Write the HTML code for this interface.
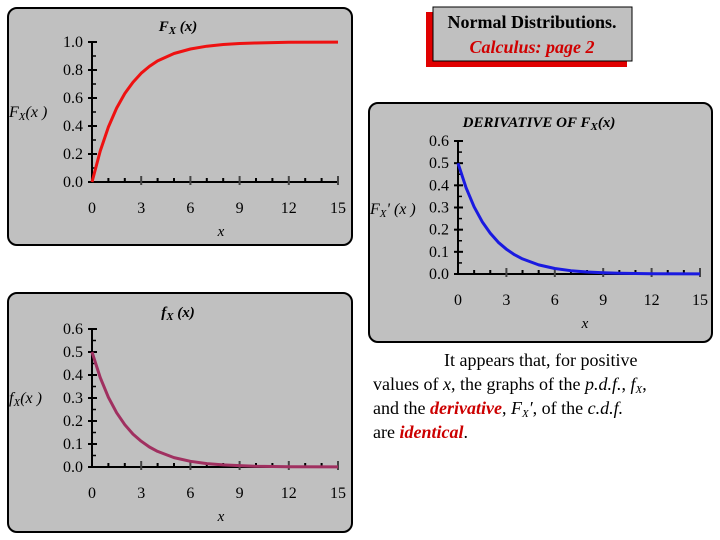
<!DOCTYPE html>
<html><head><meta charset="utf-8"><style>
body{margin:0;width:720px;height:540px;background:#fff;position:relative;overflow:hidden;font-family:"Liberation Serif",serif}
svg{position:absolute;left:0;top:0}
#para{position:absolute;left:373px;top:348px;width:345px;font-size:18px;line-height:24px;color:#000;white-space:nowrap}
#para sub{font-size:11px;line-height:0;vertical-align:-3px}
</style></head><body>
<svg id="s" width="720" height="540"></svg>
<div id="para"><span style="padding-left:71px"></span>It appears that, for positive<br>values of <i>x</i>, the graphs of the <i>p.d.f.</i>, <i>f<sub>X</sub></i>,<br>and the <b><i style="color:#c00">derivative</i></b>, <i>F<sub>X</sub>′</i>, of the <i>c.d.f.</i><br>are <b><i style="color:#c00">identical</i></b>.</div>
<script>
const xs=[0,0.5,1,1.5,2,2.5,3,3.5,4,5,6,7,8,9,10,12,15];
const cdfVals=[0,0.221,0.393,0.528,0.632,0.713,0.777,0.826,0.865,0.918,0.950,0.970,0.982,0.989,0.993,0.998,0.999];
const pdfVals=[0.5,0.389,0.303,0.236,0.184,0.143,0.112,0.087,0.068,0.041,0.025,0.015,0.009,0.006,0.003,0.001,0.0003];
const derivVals=[0.5,0.389,0.303,0.236,0.184,0.143,0.112,0.087,0.068,0.041,0.025,0.015,0.009,0.006,0.003,0.001,0.0003];
const xTicks=[0,3,6,9,12,15];
const cdfYTicks=["0.0","0.2","0.4","0.6","0.8","1.0"];
const pdfYTicks=["0.0","0.1","0.2","0.3","0.4","0.5","0.6"];
const NS="http://www.w3.org/2000/svg";
const svg=document.getElementById('s');
function el(t,a,p){const e=document.createElementNS(NS,t);for(const k in a)e.setAttribute(k,a[k]);(p||svg).appendChild(e);return e;}
function txt(x,y,s,a,p){const e=el('text',Object.assign({x:x,y:y,'font-family':'Liberation Serif, serif','font-size':16},a||{}),p);e.textContent=s;return e;}
const tb=el('g',{});


el('rect',{x:426,y:12,width:201,height:55,fill:'#e00000'},tb);
el('rect',{x:433,y:7,width:199,height:54,fill:'#c0c0c0',stroke:'#000','stroke-width':1},tb);
txt(532,28,'Normal Distributions.',{'text-anchor':'middle','font-weight':'bold','font-size':18},tb);
txt(532,53,'Calculus:  page 2',{'text-anchor':'middle','font-weight':'bold','font-style':'italic','font-size':18,fill:'#d00000'},tb);
function chart(o){
  const g=el('g',{});
  
  
  el('rect',{x:o.px,y:o.py,width:o.pw,height:o.ph,rx:9,fill:'#c0c0c0',stroke:'#000','stroke-width':2},g);
  const sx=v=>o.x0+(o.x1-o.x0)*v/15;
  const sy=v=>o.y0-(o.y0-o.y1)*v/o.ymax;
  const ax=el('path',{d:`M${o.x0},${o.y1}V${o.y0}H${o.x1}`,stroke:'#000','stroke-width':2,fill:'none'},g);
  
  
  const n=o.yt.length-1;
  o.yt.forEach((l,i)=>{const v=o.ymax*i/n;const y=sy(v);
    el('line',{x1:o.x0-4,x2:o.x0+5,y1:y,y2:y,stroke:'#000','stroke-width':2},g);
    if(i<n){const ym=sy(v+o.ymax/n/2);el('line',{x1:o.x0,x2:o.x0+4,y1:ym,y2:ym,stroke:'#000','stroke-width':1.5},g);}
    const t=txt(o.x0-9,y+5,l,{'text-anchor':'end'},g);
    
    
  });
  for(let k=1;k<=15;k++){const x=sx(k);const maj=k%3==0;
    el('line',{x1:x,x2:x,y1:o.y0-(maj?6:4),y2:o.y0+(maj?3:0),stroke:maj?'#444':'#000','stroke-width':2},g);}
  xTicks.forEach(v=>{const t=txt(sx(v),o.y0+31,String(v),{'text-anchor':'middle'},g);
    
    });
  const xt=txt((o.x0+o.x1)/2+6,o.y0+54,'x',{'text-anchor':'middle','font-style':'italic','font-size':15},g);
  
  
  const tt=el('text',{x:o.tx,y:o.ty,'text-anchor':'middle','font-family':'Liberation Serif, serif','font-size':15,'font-weight':'bold','font-style':'italic'},g);
  tt.innerHTML=o.title;
  
  
  const yt=el('text',{x:o.px+1,y:o.yty,'font-family':'Liberation Serif, serif','font-size':16,'font-style':'italic'},g);
  yt.innerHTML=o.ylab;
  
  
  const d=xs.map((x,i)=>(i?'L':'M')+sx(x).toFixed(1)+','+sy(o.vals[i]).toFixed(1)).join('');
  const c=el('path',{d:d,stroke:o.color,'stroke-width':3,fill:'none','stroke-linejoin':'round'},g);
  
  
}
chart({name:'cdf-chart',px:8,py:8,pw:344,ph:237,x0:92,x1:338,y0:182,y1:42,ymax:1,yt:cdfYTicks,vals:cdfVals,color:'#ee1111',tx:178,ty:31,
 title:'F<tspan font-size="11" dy="3">X</tspan><tspan dy="-3"> (x)</tspan>',ylab:'F<tspan font-size="11" dy="3">X</tspan><tspan dy="-3">(x )</tspan>',yty:117});
chart({name:'derivative-chart',px:369,py:103,pw:343,ph:239,x0:458,x1:700,y0:274,y1:141,ymax:0.6,yt:pdfYTicks,vals:derivVals,color:'#1a1ae0',tx:539,ty:127,
 title:'DERIVATIVE OF F<tspan font-size="11" dy="3">X</tspan><tspan dy="-3">(x)</tspan>',ylab:'F<tspan font-size="11" dy="3">X</tspan><tspan dy="-3">\' (x )</tspan>',yty:214});
chart({name:'pdf-chart',px:8,py:293,pw:344,ph:239,x0:92,x1:338,y0:467,y1:329,ymax:0.6,yt:pdfYTicks,vals:pdfVals,color:'#a03060',tx:178,ty:317,
 title:'f<tspan font-size="11" dy="3">X</tspan><tspan dy="-3"> (x)</tspan>',ylab:'f<tspan font-size="11" dy="3">X</tspan><tspan dy="-3">(x )</tspan>',yty:403});
</script>
</body></html>
